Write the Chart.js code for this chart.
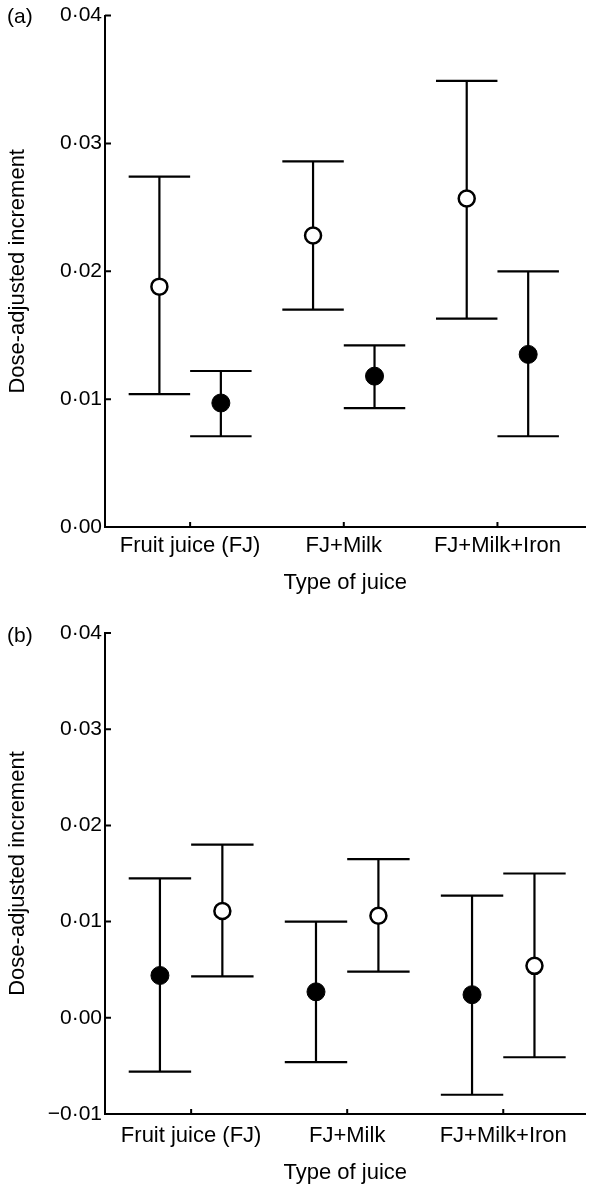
<!DOCTYPE html>
<html>
<head>
<meta charset="utf-8">
<script src="https://cdn.jsdelivr.net/npm/chart.js@4.4.0/dist/chart.umd.min.js"></script>
<style>
  body { margin: 0; background: #fff; }
  canvas { display: block; }
</style>
</head>
<body>
<canvas id="chartA" width="596" height="600"></canvas>
<canvas id="chartB" width="596" height="588"></canvas>
<script>
// categories and tick labels
const categories = ['Fruit juice (FJ)', 'FJ+Milk', 'FJ+Milk+Iron'];
const yTicksA = [0, 0.01, 0.02, 0.03, 0.04];
const yTicksB = [-0.01, 0, 0.01, 0.02, 0.03, 0.04];

// panel (a)
const aOpenMean = [0.0188, 0.0228, 0.0257];
const aOpenLow = [0.0104, 0.0170, 0.0163];
const aOpenHigh = [0.0274, 0.0286, 0.0349];
const aFilledMean = [0.0097, 0.0118, 0.0135];
const aFilledLow = [0.0071, 0.0093, 0.0071];
const aFilledHigh = [0.0122, 0.0142, 0.0200];

// panel (b)
const bFilledMean = [0.0044, 0.0027, 0.0024];
const bFilledLow = [-0.0056, -0.0046, -0.0080];
const bFilledHigh = [0.0145, 0.0100, 0.0127];
const bOpenMean = [0.0111, 0.0106, 0.0054];
const bOpenLow = [0.0043, 0.0048, -0.0041];
const bOpenHigh = [0.0180, 0.0165, 0.0150];

const FONT = "'Liberation Sans', Arial, sans-serif";
const SHIFT = 0.2; // side offset of each series from the category centre

function fmt(v) {
  const s = Math.abs(v).toFixed(2).replace('.', '\u00b7');
  return (v < -1e-9 ? '\u2212' : '') + s;
}

function points(means, off) {
  return means.map((m, i) => ({ x: i + 1 + off, y: m }));
}

function openSeries(means, lows, highs, off) {
  return {
    data: points(means, off), lows: lows, highs: highs,
    pointRadius: 8, pointBorderWidth: 2.5,
    pointBackgroundColor: '#fff', pointBorderColor: '#000'
  };
}
function filledSeries(means, lows, highs, off) {
  return {
    data: points(means, off), lows: lows, highs: highs,
    pointRadius: 9, pointBorderWidth: 1,
    pointBackgroundColor: '#000', pointBorderColor: '#000'
  };
}

// error bars under the points, inward tick marks and panel letter
const errorBars = {
  id: 'errorBars',
  beforeDatasetsDraw(chart) {
    const ctx = chart.ctx, xs = chart.scales.x, ys = chart.scales.y;
    const half = Math.abs(xs.getPixelForValue(SHIFT) - xs.getPixelForValue(0));
    ctx.save();
    ctx.strokeStyle = '#000';
    ctx.lineWidth = 2.2;
    chart.data.datasets.forEach(ds => {
      ds.data.forEach((p, i) => {
        const x = xs.getPixelForValue(p.x);
        const yl = ys.getPixelForValue(ds.lows[i]);
        const yh = ys.getPixelForValue(ds.highs[i]);
        ctx.beginPath();
        ctx.moveTo(x, yl); ctx.lineTo(x, yh);
        ctx.moveTo(x - half, yl); ctx.lineTo(x + half, yl);
        ctx.moveTo(x - half, yh); ctx.lineTo(x + half, yh);
        ctx.stroke();
      });
    });
    ctx.restore();
  },
  afterDraw(chart, args, opts) {
    const ctx = chart.ctx, xs = chart.scales.x, ys = chart.scales.y;
    const area = chart.chartArea;
    ctx.save();
    ctx.strokeStyle = '#000';
    ctx.lineWidth = 2;
    ctx.beginPath();
    ys.ticks.forEach(t => {
      const y = ys.getPixelForValue(t.value);
      ctx.moveTo(area.left, y); ctx.lineTo(area.left + 6, y);
    });
    xs.ticks.forEach(t => {
      const x = xs.getPixelForValue(t.value);
      ctx.moveTo(x, area.bottom); ctx.lineTo(x, area.bottom - 5);
    });
    ctx.stroke();
    ctx.fillStyle = '#000';
    ctx.font = '21px ' + FONT;
    ctx.textAlign = 'left';
    ctx.textBaseline = 'middle';
    ctx.fillText(opts.letter, 7, opts.letterY);
    ctx.restore();
  }
};

function makeChart(id, cfg) {
  const height = document.getElementById(id).height;
  return new Chart(document.getElementById(id), {
    type: 'scatter',
    data: { datasets: cfg.datasets },
    plugins: [errorBars],
    options: {
      responsive: false,
      devicePixelRatio: 1,
      animation: false,
      layout: { padding: { top: cfg.top, right: 0, left: 0, bottom: 0 } },
      plugins: {
        legend: { display: false },
        tooltip: { enabled: false },
        errorBars: { letter: cfg.letter, letterY: cfg.letterY }
      },
      scales: {
        x: {
          type: 'linear',
          min: cfg.xMin, max: cfg.xMax,
          grid: { display: false, drawTicks: false },
          border: { display: true, color: '#000', width: 2 },
          afterBuildTicks: s => { s.ticks = categories.map((c, i) => ({ value: i + 1 })); },
          afterFit: s => { s.height = height - cfg.bottom; },
          ticks: {
            autoSkip: false, maxRotation: 0, padding: cfg.labelPad,
            color: '#000', font: { family: FONT, size: 22 },
            callback: v => categories[Math.round(v) - 1] || ''
          },
          title: {
            display: true, text: 'Type of juice', color: '#000',
            font: { family: FONT, size: 22 }, padding: { top: 0, bottom: cfg.titlePad }
          }
        },
        y: {
          min: cfg.yMin, max: cfg.yMax,
          grid: { display: false, drawTicks: false },
          border: { display: true, color: '#000', width: 2 },
          afterBuildTicks: s => { s.ticks = cfg.yTicks.map(v => ({ value: v })); },
          afterFit: s => { s.width = 105; },
          ticks: {
            padding: 3, color: '#000', font: { family: FONT, size: 21 },
            callback: v => fmt(v)
          },
          title: {
            display: true, text: 'Dose-adjusted increment', color: '#000',
            font: { family: FONT, size: 22 }, padding: { top: 5, bottom: 0 }
          }
        }
      }
    }
  });
}

makeChart('chartA', {
  letter: '(a)', letterY: 17, top: 13, bottom: 527, titlePad: 4, labelPad: 6,
  xMin: 0.446, xMax: 3.573, yMin: 0, yMax: 0.04, yTicks: yTicksA,
  datasets: [
    openSeries(aOpenMean, aOpenLow, aOpenHigh, -SHIFT),
    filledSeries(aFilledMean, aFilledLow, aFilledHigh, SHIFT)
  ]
});

makeChart('chartB', {
  letter: '(b)', letterY: 36, top: 33, bottom: 514, titlePad: 2, labelPad: 9,
  xMin: 0.448, xMax: 3.527, yMin: -0.01, yMax: 0.04, yTicks: yTicksB,
  datasets: [
    filledSeries(bFilledMean, bFilledLow, bFilledHigh, -SHIFT),
    openSeries(bOpenMean, bOpenLow, bOpenHigh, SHIFT)
  ]
});
</script>
</body>
</html>
